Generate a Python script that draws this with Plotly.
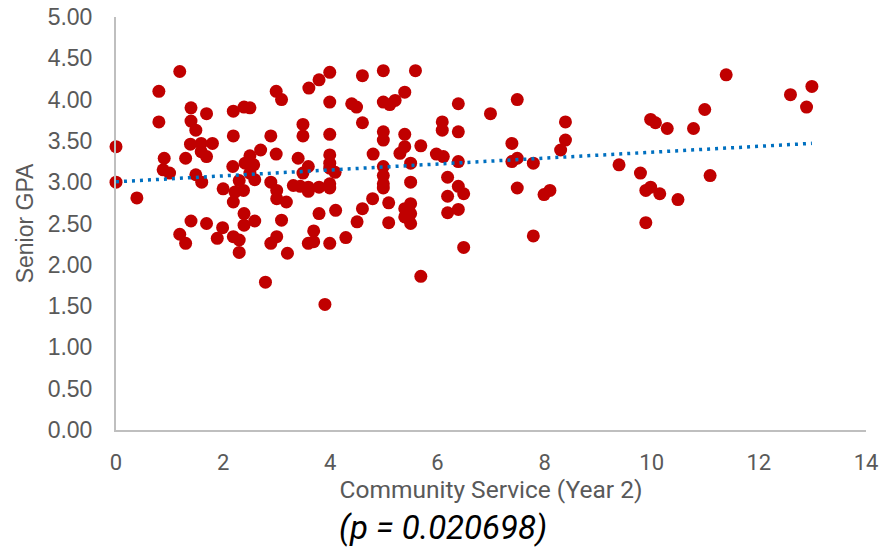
import plotly.graph_objects as go

# Community Service (Year 2) hours and Senior GPA
service = [
    1.19, 0.80, 0.80, 1.40, 1.69, 1.40, 1.49, 2.19, 2.39, 2.50, 2.99, 3.09,
    0.00, 0.00, 0.39, 0.90, 0.88, 1.00, 1.30, 1.39, 1.59, 1.80, 1.59, 1.69,
    1.49, 1.60, 2.19, 2.89, 2.99, 2.70, 2.50,
    2.18, 2.41, 2.57, 2.50, 2.30, 2.59, 2.89, 2.00, 2.22, 2.38, 3.00, 3.00,
    3.18, 3.31, 3.44, 2.19, 2.39,
    1.40, 1.69, 1.99, 1.89, 1.19, 1.30, 2.19, 2.30, 2.30, 2.59, 2.39, 3.09,
    2.89, 3.00, 3.20, 2.79,
    3.99, 3.79, 3.60, 4.60, 4.99, 5.59, 3.99, 4.40, 4.49, 4.99, 5.11, 5.21,
    5.39, 3.49, 3.49, 3.99, 4.60, 4.99, 4.99, 5.39, 5.39, 5.69, 5.30, 6.09,
    6.09, 5.98, 6.11, 4.80, 5.50, 4.99, 4.99, 4.99, 4.99, 5.50, 3.40, 3.59,
    3.49, 3.99, 3.99, 4.09, 3.99,
    3.59, 3.59, 3.79, 3.99, 3.99, 3.79, 4.10, 3.69, 3.59, 3.69, 3.99, 4.29,
    4.50, 4.60, 4.79, 5.09, 5.09, 5.39, 5.50, 5.39, 5.50, 5.50, 5.69, 3.90,
    6.39, 6.39, 6.99, 7.49, 7.39, 7.39, 7.49, 7.79, 8.39, 8.39, 8.30, 6.39,
    6.19, 6.39, 6.49, 6.19, 6.19, 6.39, 6.49, 7.49, 7.99, 8.10, 7.79, 9.39,
    9.79, 9.98, 10.07, 9.89, 9.98, 10.15, 9.89,
    11.39, 10.99, 10.78, 10.29, 12.59, 12.99, 12.89, 11.09, 10.49,
]
gpa = [
    4.34, 4.10, 3.73, 3.90, 3.83, 3.74, 3.63, 3.86, 3.91, 3.90, 4.10, 4.00,
    3.43, 3.00, 2.81, 3.29, 3.15, 3.11, 3.29, 3.46, 3.47, 3.47, 3.37, 3.31,
    3.09, 3.00, 3.56, 3.56, 3.34, 3.39, 3.32,
    3.19, 3.23, 3.21, 3.11, 3.02, 3.03, 3.00, 2.92, 2.88, 2.90, 2.90, 2.80,
    2.76, 2.96, 2.95, 2.76, 2.62,
    2.53, 2.50, 2.45, 2.32, 2.37, 2.26, 2.34, 2.30, 2.15, 2.53, 2.48, 2.54,
    2.26, 2.34, 2.14, 1.79,
    4.33, 4.24, 4.14, 4.29, 4.35, 4.35, 3.97, 3.95, 3.91, 3.97, 3.94, 3.99,
    4.09, 3.70, 3.56, 3.58, 3.72, 3.61, 3.51, 3.58, 3.43, 3.44, 3.35, 3.73,
    3.63, 3.34, 3.31, 3.34, 3.23, 3.19, 3.08, 2.98, 2.93, 3.00, 3.29, 3.19,
    3.11, 3.33, 3.23, 3.12, 3.17,
    2.94, 2.89, 2.94, 2.98, 2.93, 2.62, 2.66, 2.41, 2.26, 2.28, 2.26, 2.33,
    2.52, 2.68, 2.80, 2.75, 2.51, 2.68, 2.74, 2.58, 2.62, 2.50, 1.86, 1.52,
    3.95, 3.61, 3.83, 4.00, 3.47, 3.25, 3.29, 3.23, 3.73, 3.51, 3.39, 3.25,
    3.06, 2.95, 2.86, 2.83, 2.63, 2.67, 2.21, 2.93, 2.85, 2.90, 2.35, 3.21,
    3.11, 3.76, 3.72, 2.90, 2.94, 2.86, 2.51,
    4.30, 3.88, 3.65, 3.65, 4.06, 4.16, 3.91, 3.08, 2.79,
]

# Linear trendline as shown on the chart
trend_intercept = 3.005
trend_slope = 0.0358

x_ticks = [0, 2, 4, 6, 8, 10, 12, 14]
y_ticks = [0, 0.5, 1, 1.5, 2, 2.5, 3, 3.5, 4, 4.5, 5]
x_title = "Community Service (Year 2)"
y_title = "Senior GPA"
p_label = "(p = 0.020698)"

trend_x = [min(service), max(service)]
trend_y = [trend_intercept + trend_slope * v for v in trend_x]

GRAY = "#595959"
AXIS = "#BFBFBF"
NARROW = "Roboto, sans-serif"
REG = "Liberation Sans, Arial, sans-serif"

fig = go.Figure()
fig.add_trace(go.Scatter(
    x=service, y=gpa, mode="markers",
    marker=dict(color="#C00000", size=13, line=dict(width=0)),
    cliponaxis=False, showlegend=False,
))
fig.add_trace(go.Scatter(
    x=trend_x, y=trend_y, mode="lines",
    line=dict(color="#0070C0", width=3.5, dash="3px,5px"),
    showlegend=False,
))

fig.update_layout(
    width=883, height=547,
    margin=dict(l=116, r=17, t=17, b=117, autoexpand=False),
    paper_bgcolor="white", plot_bgcolor="white",
    xaxis=dict(
        range=[0, 14], tickvals=x_ticks, ticktext=[str(v) for v in x_ticks],
        showgrid=False, zeroline=False, showline=True, linecolor=AXIS, linewidth=2,
        ticks="", ticklabelstandoff=12, automargin=False,
        tickfont=dict(family=NARROW, size=22, color=GRAY),
        title=dict(text=x_title, font=dict(family=NARROW, size=24.5, color=GRAY), standoff=4),
    ),
    yaxis=dict(
        range=[0, 5], tickvals=y_ticks, ticktext=[f"{v:.2f}" for v in y_ticks],
        showgrid=False, zeroline=False, showline=True, linecolor=AXIS, linewidth=2,
        ticks="", ticklabelstandoff=17, automargin=False,
        tickfont=dict(family=REG, size=23, color=GRAY),
        title=dict(text=y_title, font=dict(family=REG, size=23, color=GRAY), standoff=8),
    ),
    annotations=[dict(
        text="<i>" + p_label + "</i>", xref="paper", yref="paper",
        x=0.436, y=-0.237, xanchor="center", yanchor="middle", showarrow=False,
        font=dict(family=NARROW, size=33, color="#000000"),
    )],
)

fig.write_html("out.html")
